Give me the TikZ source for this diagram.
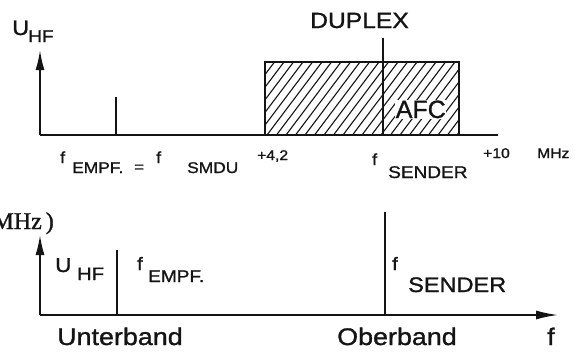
\documentclass[tikz,border=0pt]{standalone}
\usepackage{fontspec}
\usepackage{xcolor}
\setmainfont[FakeStretch=1.12,FakeBold=1.2]{Liberation Sans}
\newfontfamily\narrowfont[FakeBold=1.2]{Liberation Sans}
\newfontfamily\typefont[FakeBold=1.2]{Liberation Serif}
\usetikzlibrary{arrows.meta}
\definecolor{InkBlack}{HTML}{141414}
\newcommand{\sz}[1]{\fontsize{#1}{#1}\selectfont}

\tikzset{
  axisline/.style={draw=InkBlack,line width=1.7pt},
  axisarrow/.style={axisline,-{Latex[length=20pt,width=9pt]}},
  spike/.style={draw=InkBlack,line width=1.5pt},
  hatchbox/.style={draw=InkBlack,line width=1.4pt},
  hatchline/.style={draw=InkBlack,line width=1.1pt},
  lbl/.style={inner sep=0pt,anchor=base west,text=InkBlack},
}

\begin{document}
\begin{tikzpicture}[x=1pt,y=-1pt]
  \useasboundingbox (0,0) rectangle (575,354);

  % upper spectrum
  \coordinate (top0) at (40,135);
  \coordinate (topY) at (40,50);
  \coordinate (topX) at (498,135);
  \coordinate (empfA) at (116,135);
  \coordinate (empfB) at (116,97);
  \coordinate (dupA) at (383,135);
  \coordinate (dupB) at (383,38);
  \coordinate (bandSW) at (265,135);
  \coordinate (bandNE) at (459,62);
  \begin{scope}
    \clip (bandSW) rectangle (bandNE);
    \foreach \s in {0,9.5,...,260}
      \draw[hatchline] (210+\s,135) -- ++(55,-73);
  \end{scope}
  \draw[hatchbox] (bandSW) rectangle (bandNE);
  \draw[axisline] (top0) -- (topX);
  \draw[axisarrow] (top0) -- (topY);
  \draw[spike] (empfA) -- (empfB);
  \draw[spike,line width=1.1pt] (dupA) -- (dupB);

  \node[lbl,font=\sz{22}] (duplex) at (310,28) {DUPLEX};
  \node[lbl,font=\sz{21}] (uTop) at (12,35) {U};
  \node[lbl,font=\sz{17}] (hfTop) at (28,42) {HF};
  \node[lbl,font=\narrowfont\sz{25},fill=white,inner sep=0.6pt] (afc) at (395,118) {AFC};
  \node[lbl,font=\sz{16}] (fEmpf) at (60,163) {f};
  \node[lbl,font=\sz{15.5}] (empf) at (72,173) {EMPF.};
  \node[lbl,font=\sz{15}] (eq) at (134,172) {=};
  \node[lbl,font=\sz{16}] (fSmdu) at (156,163) {f};
  \node[lbl,font=\sz{15.5}] (smdu) at (187,173) {SMDU};
  \node[lbl,font=\sz{14}] (lo) at (257,160) {+4,2};
  \node[lbl,font=\sz{16}] (fSendTop) at (372,165) {f};
  \node[lbl,font=\sz{17}] (sendTop) at (388,178) {SENDER};
  \node[lbl,font=\sz{14}] (hi) at (483,158) {+10};
  \node[lbl,font=\sz{14}] (mhz) at (537,158) {MHz};

  % lower spectrum
  \coordinate (bot0) at (40,315);
  \coordinate (botY) at (40,235);
  \coordinate (botX) at (558,315);
  \coordinate (unterA) at (117,315);
  \coordinate (unterB) at (117,250);
  \coordinate (oberA) at (385,315);
  \coordinate (oberB) at (385,212);
  \draw[axisarrow] (bot0) -- (botY);
  \draw[axisline,-{Latex[length=22pt,width=9pt]}] (bot0) -- (botX);
  \draw[spike] (unterA) -- (unterB);
  \draw[spike] (oberA) -- (oberB);

  \node[lbl,font=\typefont\sz{24},anchor=base east] (unit) at (54,229) {MHz\,)};
  \node[lbl,font=\sz{20}] (uBot) at (55,272) {U};
  \node[lbl,font=\sz{18}] (hfBot) at (77,280) {HF};
  \node[lbl,font=\sz{18}] (fEmpfBot) at (137,270) {f};
  \node[lbl,font=\sz{17}] (empfBot) at (148,282) {EMPF.};
  \node[lbl,font=\sz{18}] (fSendBot) at (392,270) {f};
  \node[lbl,font=\sz{21}] (sendBot) at (408,292) {SENDER};
  \node[lbl,font=\sz{24}] (unter) at (57,345) {Unterband};
  \node[lbl,font=\sz{24}] (ober) at (337,345) {Oberband};
  \node[lbl,font=\sz{24}] (fAxis) at (547,345) {f};
\end{tikzpicture}
\end{document}
